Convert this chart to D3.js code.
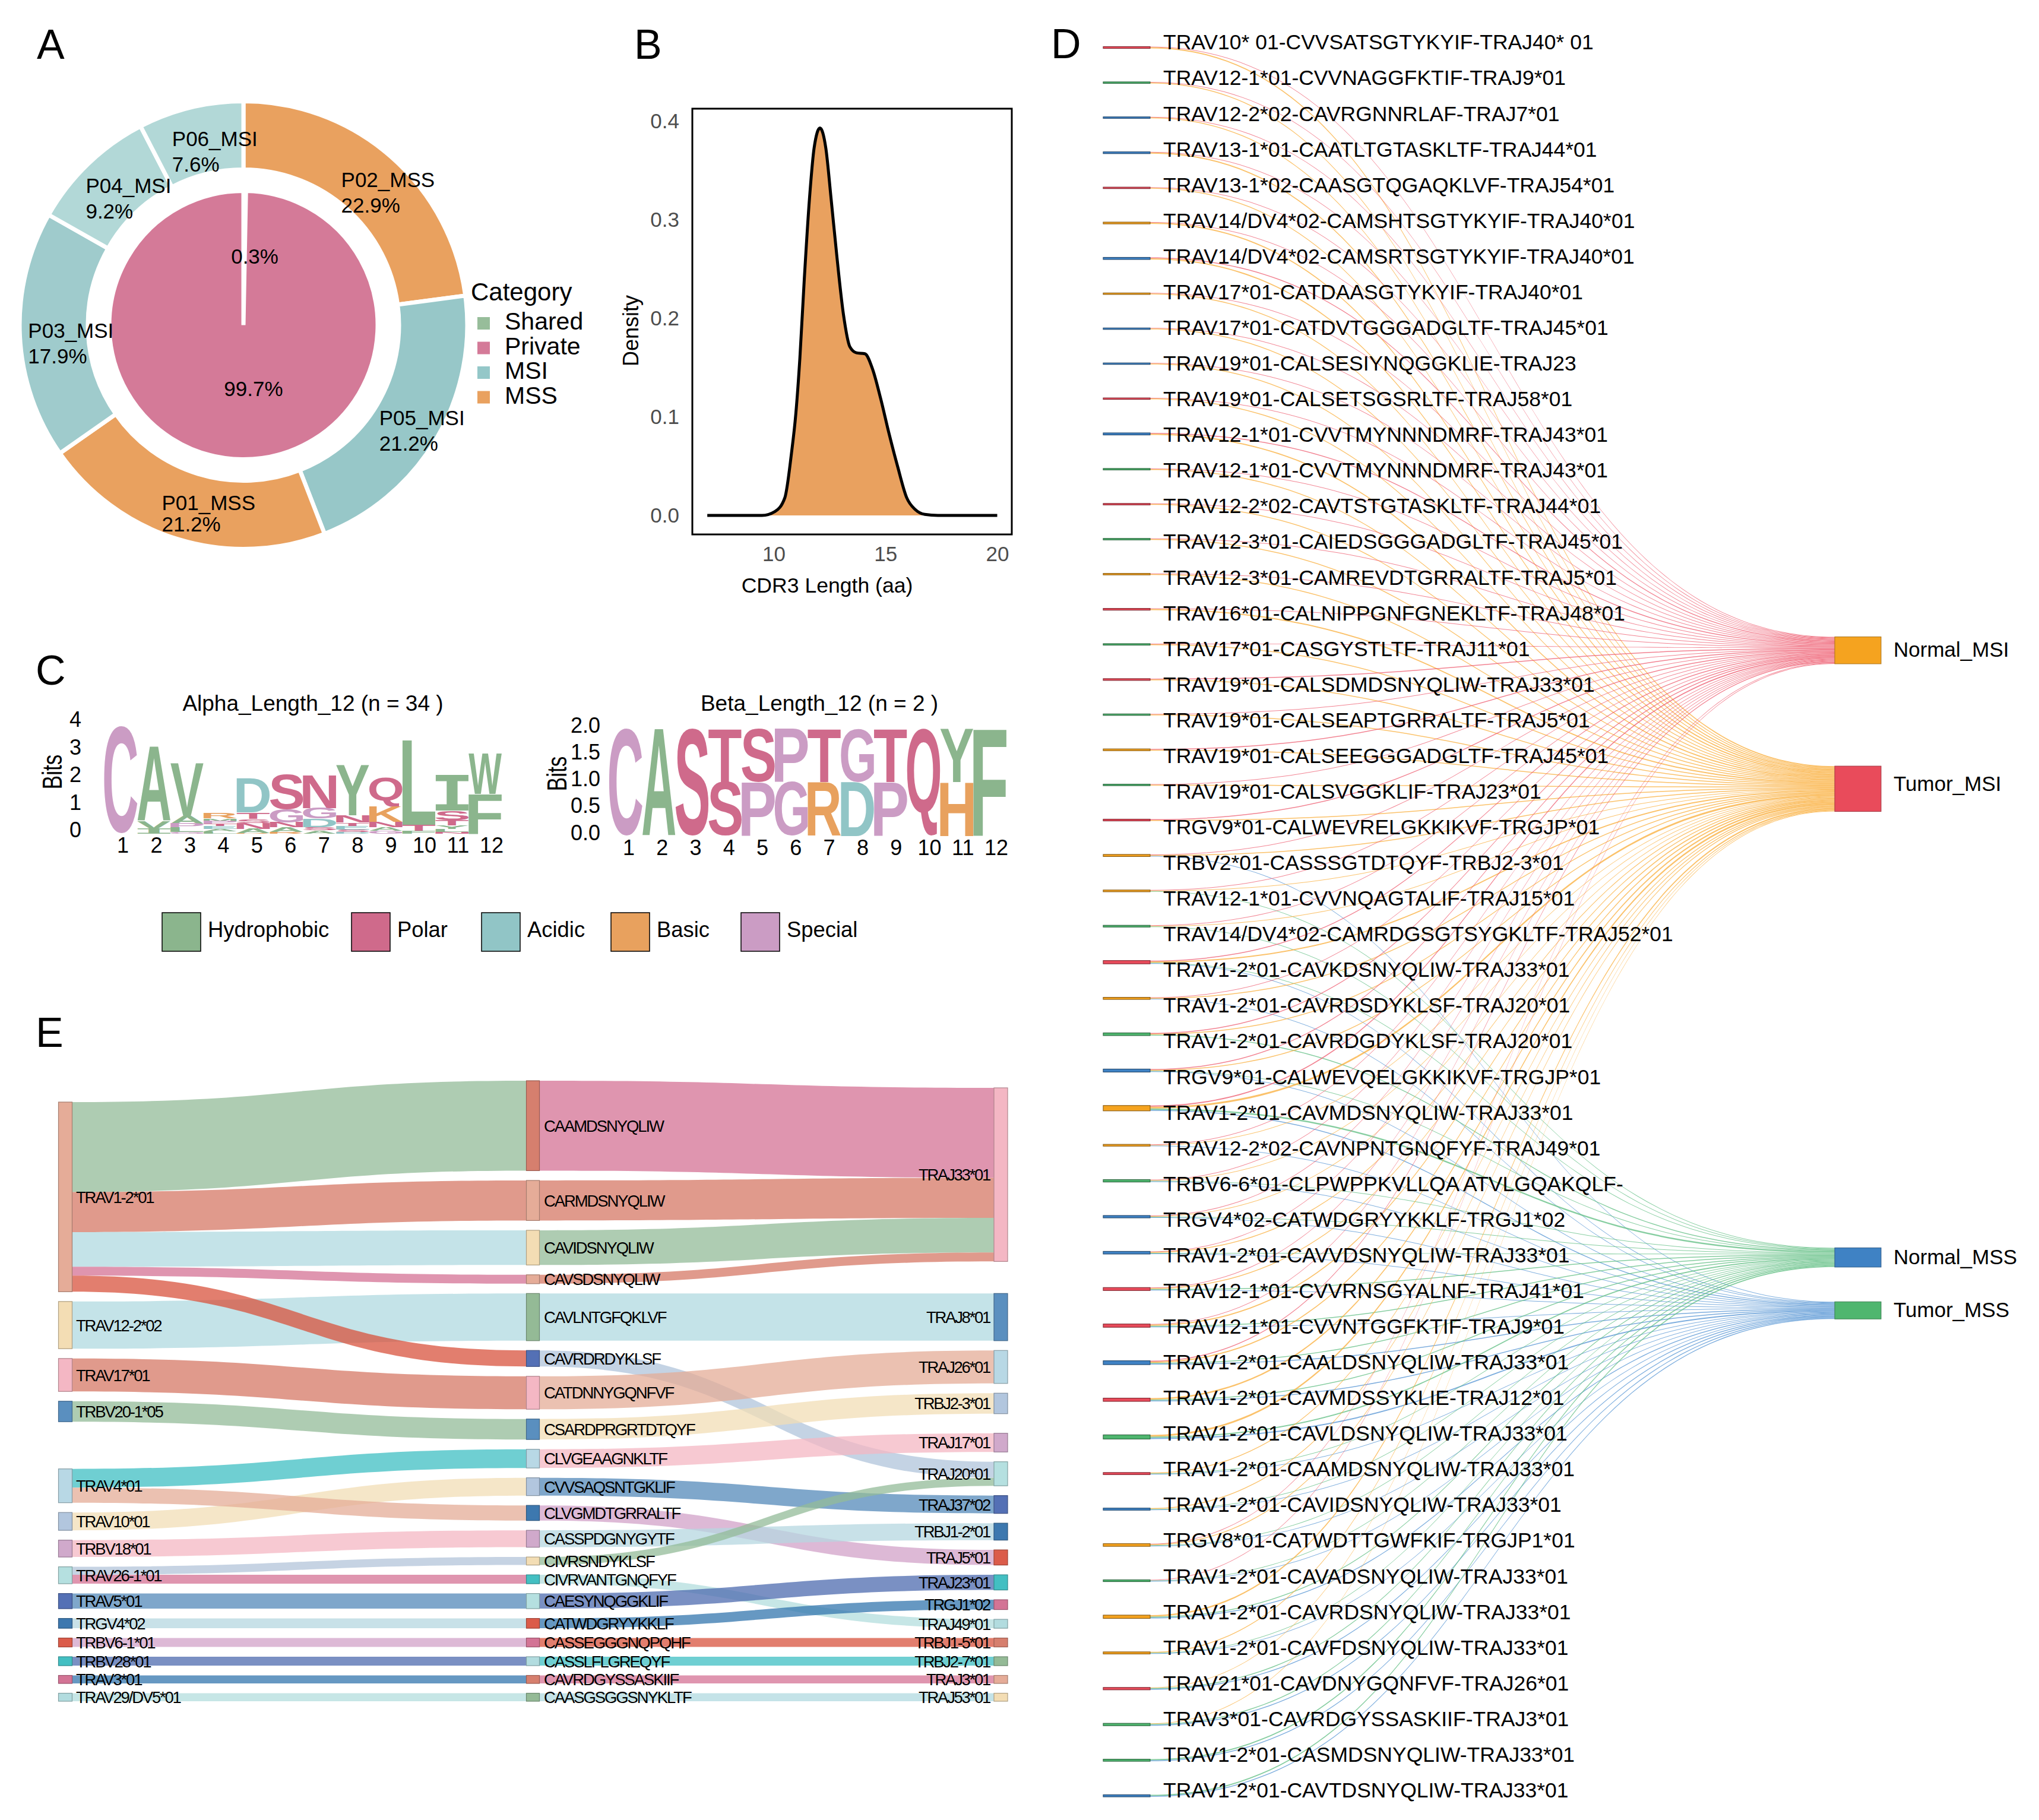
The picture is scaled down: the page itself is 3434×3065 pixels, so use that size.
<!DOCTYPE html>
<html><head><meta charset="utf-8">
<script src="https://cdn.jsdelivr.net/npm/d3@7"></script>
<style>
html,body{margin:0;padding:0;background:#fff}
svg{display:block}
text{font-family:"Liberation Sans",Arial,sans-serif;fill:#000}
</style></head><body>
<svg id="fig" width="3434" height="3065" viewBox="0 0 3434 3065"></svg>
<script>
// ---------- DATA ----------
const donutSamples = ["P02_MSS","P05_MSI","P01_MSS","P03_MSI","P04_MSI","P06_MSI"];
const donutPercent = [22.9,21.2,21.2,17.9,9.2,7.6];
const donutColors  = ["#E9A15F","#97C7C8","#E9A15F","#9FCBCC","#B2D8D7","#B2D8D7"];
const pieCategories = ["Shared","Private"];
const piePercent = [0.3,99.7];
const legendCategories = ["Shared","Private","MSI","MSS"];
const legendCatColors = ["#97BD9A","#D47A98","#94C7C8","#E9A15F"];

const densityX = [7.03,9.48,10.06,10.5,10.79,10.99,11.17,11.37,11.6,11.81,12.07,12.33,12.57,12.83,13.12,13.41,13.7,14.08,14.43,14.78,15.16,15.54,15.95,16.33,16.76,17.35,20];
const densityY = [0,0,.004,.018,.062,.103,.159,.24,.321,.373,.393,.373,.321,.262,.204,.171,.165,.164,.148,.119,.083,.05,.018,.006,.001,0,0];
const densityXTicks = [10,15,20];
const densityYTicks = [0,.1,.2,.3,.4];

const residueGroups = ["Hydrophobic","Polar","Acidic","Basic","Special"];
const groupColors = ["#8BB58D","#CF6A8B","#91C5C6","#E8A15E","#CB9CC4"];
const groupResidues = ["AVILMFWY","STNQ","DE","KRH","CGP"];
// each column lists letters from top to bottom with its height in bits
const alphaLogo = [
 [["C",3.9]],
 [["A",2.69],["V",.28],["I",.18]],
 [["V",1.92],["A",.27],["P",.15],["L",.15],["G",.06]],
 [["R",.18],["M",.09],["P",.1],["T",.09],["E",.1],["A",.09],["L",.08]],
 [["D",1.25],["T",.23],["S",.15],["N",.21],["A",.15],["R",.03]],
 [["S",1.27],["G",.48],["N",.18],["A",.17],["R",.06]],
 [["N",1.18],["G",.38],["D",.31],["S",.12],["A",.12]],
 [["Y",1.82],["N",.25],["T",.12],["E",.14],["S",.09],["D",.06]],
 [["Q",1.09],["K",.54],["N",.2],["A",.13],["G",.1]],
 [["L",3.08],["T",.21],["F",.1]],
 [["I",1.29],["S",.35],["T",.18],["Y",.13],["L",.12],["N",.06]],
 [["W",1.46],["F",1.45]]
];
const betaLogo = [
 [["C",1.99]],[["A",1.99]],[["S",1.99]],
 [["T",.99],["S",1]],[["S",.99],["P",1]],[["P",.99],["G",1]],
 [["T",.99],["R",1]],[["G",.99],["D",1]],[["T",.99],["P",1]],
 [["Q",1.99]],[["Y",.99],["H",1]],[["F",1.99]]
];
const positions = [1,2,3,4,5,6,7,8,9,10,11,12];
const alphaBitTicks = [0,1,2,3,4];
const betaBitTicks = [0,.5,1,1.5,2];

const clonotypes = [
"TRAV10* 01-CVVSATSGTYKYIF-TRAJ40* 01","TRAV12-1*01-CVVNAGGFKTIF-TRAJ9*01","TRAV12-2*02-CAVRGNNRLAF-TRAJ7*01","TRAV13-1*01-CAATLTGTASKLTF-TRAJ44*01","TRAV13-1*02-CAASGTQGAQKLVF-TRAJ54*01",
"TRAV14/DV4*02-CAMSHTSGTYKYIF-TRAJ40*01","TRAV14/DV4*02-CAMSRTSGTYKYIF-TRAJ40*01","TRAV17*01-CATDAASGTYKYIF-TRAJ40*01","TRAV17*01-CATDVTGGGADGLTF-TRAJ45*01","TRAV19*01-CALSESIYNQGGKLIE-TRAJ23",
"TRAV19*01-CALSETSGSRLTF-TRAJ58*01","TRAV12-1*01-CVVTMYNNNDMRF-TRAJ43*01","TRAV12-1*01-CVVTMYNNNDMRF-TRAJ43*01","TRAV12-2*02-CAVTSTGTASKLTF-TRAJ44*01","TRAV12-3*01-CAIEDSGGGADGLTF-TRAJ45*01",
"TRAV12-3*01-CAMREVDTGRRALTF-TRAJ5*01","TRAV16*01-CALNIPPGNFGNEKLTF-TRAJ48*01","TRAV17*01-CASGYSTLTF-TRAJ11*01","TRAV19*01-CALSDMDSNYQLIW-TRAJ33*01","TRAV19*01-CALSEAPTGRRALTF-TRAJ5*01",
"TRAV19*01-CALSEEGGGADGLTF-TRAJ45*01","TRAV19*01-CALSVGGKLIF-TRAJ23*01","TRGV9*01-CALWEVRELGKKIKVF-TRGJP*01","TRBV2*01-CASSSGTDTQYF-TRBJ2-3*01","TRAV12-1*01-CVVNQAGTALIF-TRAJ15*01",
"TRAV14/DV4*02-CAMRDGSGTSYGKLTF-TRAJ52*01","TRAV1-2*01-CAVKDSNYQLIW-TRAJ33*01","TRAV1-2*01-CAVRDSDYKLSF-TRAJ20*01","TRAV1-2*01-CAVRDGDYKLSF-TRAJ20*01","TRGV9*01-CALWEVQELGKKIKVF-TRGJP*01",
"TRAV1-2*01-CAVMDSNYQLIW-TRAJ33*01","TRAV12-2*02-CAVNPNTGNQFYF-TRAJ49*01","TRBV6-6*01-CLPWPPKVLLQA ATVLGQAKQLF-","TRGV4*02-CATWDGRYYKKLF-TRGJ1*02","TRAV1-2*01-CAVVDSNYQLIW-TRAJ33*01",
"TRAV12-1*01-CVVRNSGYALNF-TRAJ41*01","TRAV12-1*01-CVVNTGGFKTIF-TRAJ9*01","TRAV1-2*01-CAALDSNYQLIW-TRAJ33*01","TRAV1-2*01-CAVMDSSYKLIE-TRAJ12*01","TRAV1-2*01-CAVLDSNYQLIW-TRAJ33*01",
"TRAV1-2*01-CAAMDSNYQLIW-TRAJ33*01","TRAV1-2*01-CAVIDSNYQLIW-TRAJ33*01","TRGV8*01-CATWDTTGWFKIF-TRGJP1*01","TRAV1-2*01-CAVADSNYQLIW-TRAJ33*01","TRAV1-2*01-CAVRDSNYQLIW-TRAJ33*01",
"TRAV1-2*01-CAVFDSNYQLIW-TRAJ33*01","TRAV21*01-CAVDNYGQNFVF-TRAJ26*01","TRAV3*01-CAVRDGYSSASKIIF-TRAJ3*01","TRAV1-2*01-CASMDSNYQLIW-TRAJ33*01","TRAV1-2*01-CAVTDSNYQLIW-TRAJ33*01"];
const rowGroups = ["r","g","b","b","r","o","b","o","b","b","r","b","g","r","g","o","r","g","r","g","o","g","r","o","o","g","r","o","g","b","o","o","g","b","b","r","r","b","r","g","r","b","o","g","o","o","r","g","g","b"];
const compartments = ["Normal_MSI","Tumor_MSI","Normal_MSS","Tumor_MSS"];
const countNormalMSI = [2,2,2,2,2,2,3,2,2,2,2,3,2,2,2,2,2,2,3,2,3,2,3,2,2,2,3,2,3,3,4,2,2,2,2,2,2,3,0,0,0,0,2,2,0,0,0,0,0,0];
const countTumorMSI  = [4,3,3,4,3,4,4,3,3,3,3,4,3,3,3,3,4,3,3,3,3,3,3,3,2,2,4,3,3,3,6,2,2,2,3,3,4,4,5,6,3,3,3,0,5,3,2,2,0,0];
const countNormalMSS = [0,0,0,0,0,0,0,0,0,0,0,0,0,0,0,0,0,0,0,0,0,0,0,0,2,2,2,0,3,2,5,0,2,2,2,3,3,3,3,4,2,2,2,2,3,2,3,3,4,4];
const countTumorMSS  = [0,0,0,0,0,0,0,0,0,0,0,0,0,0,0,0,0,0,0,0,0,0,0,2,0,0,2,2,0,2,3,2,2,2,2,2,2,3,3,4,2,2,2,2,3,2,3,3,3,3];
const compartmentNodeColors = ["#F5A31F","#E94B5B","#3F82C4","#4FB66F"];
const compartmentLinkColors = ["#EE5A6E","#F9AE3A","#5FBE82","#5393D3"];
const rowGroupColors = {r:"#E94B5B",g:"#4FB66F",b:"#3F82C4",o:"#F5A31F"};

const vGenes = ["TRAV1-2*01","TRAV12-2*02","TRAV17*01","TRBV20-1*05","TRAV4*01","TRAV10*01","TRBV18*01","TRAV26-1*01","TRAV5*01","TRGV4*02","TRBV6-1*01","TRBV28*01","TRAV3*01","TRAV29/DV5*01"];
const jGenes = ["TRAJ33*01","TRAJ8*01","TRAJ26*01","TRBJ2-3*01","TRAJ17*01","TRAJ20*01","TRAJ37*02","TRBJ1-2*01","TRAJ5*01","TRAJ23*01","TRGJ1*02","TRAJ49*01","TRBJ1-5*01","TRBJ2-7*01","TRAJ3*01","TRAJ53*01"];
const cdr3Seqs = ["CAAMDSNYQLIW","CARMDSNYQLIW","CAVIDSNYQLIW","CAVSDSNYQLIW","CAVLNTGFQKLVF","CAVRDRDYKLSF","CATDNNYGQNFVF","CSARDPRGRTDTQYF","CLVGEAAGNKLTF","CVVSAQSNTGKLIF","CLVGMDTGRRALTF","CASSPDGNYGYTF","CIVRSNDYKLSF","CIVRVANTGNQFYF","CAESYNQGGKLIF","CATWDGRYYKKLF","CASSEGGGNQPQHF","CASSLFLGREQYF","CAVRDGYSSASKIIF","CAASGSGGSNYKLTF"];
const cdr3Counts = [101,45,39,10,53,18,37,23,21,20,17,19,9,10,17,11,10,10,9,9];
const cdr3V = ["TRAV1-2*01","TRAV1-2*01","TRAV1-2*01","TRAV1-2*01","TRAV12-2*02","TRAV1-2*01","TRAV17*01","TRBV20-1*05","TRAV4*01","TRAV10*01","TRAV4*01","TRBV18*01","TRAV26-1*01","TRAV26-1*01","TRAV5*01","TRGV4*02","TRBV6-1*01","TRBV28*01","TRAV3*01","TRAV29/DV5*01"];
const cdr3J = ["TRAJ33*01","TRAJ33*01","TRAJ33*01","TRAJ33*01","TRAJ8*01","TRAJ20*01","TRAJ26*01","TRBJ2-3*01","TRAJ17*01","TRAJ37*02","TRAJ5*01","TRBJ1-2*01","TRAJ20*01","TRAJ49*01","TRAJ23*01","TRGJ1*02","TRBJ1-5*01","TRBJ2-7*01","TRAJ3*01","TRAJ53*01"];
const vNodeColors = ["#E5AC98","#F3DDB4","#F4B7C4","#5A8FBF","#B8D8E5","#B2C6DE","#D0A9CB","#B5E0E0","#5470B5","#3D78AF","#DB5C4A","#43BFC2","#D37495","#B2DCDF"];
const cdr3NodeColors = ["#D67F6E","#E5AC98","#F3DDB4","#E5AC98","#94BA96","#5470B5","#F4B7C4","#5A8FBF","#B8D8E5","#B2C6DE","#3D78AF","#D0A9CB","#F3DDB4","#43BFC2","#B5E0E0","#DB5C4A","#D37495","#B2DCDF","#D67F6E","#94BA96"];
const jNodeColors = ["#F4B7C4","#5A8FBF","#B8D8E5","#B2C6DE","#D0A9CB","#B5E0E0","#5470B5","#3D78AF","#DB5C4A","#43BFC2","#D37495","#B2DCDF","#D67F6E","#94BA96","#E5AC98","#F3DDB4"];
const vLinkColors = ["#AECCB2","#E09A8C","#C4E3E8","#DF95AF","#C4E3E8","#E27E6E","#E09A8C","#AECCB2","#6FCFD2","#F5E6C8","#EBC1B1","#F7C9D2","#C6D3E3","#DF95AF","#7FA7CB","#C8E1E8","#DDB9D6","#7A90C3","#6698C2","#C6E6E6"];
const jLinkColors = ["#DF95AF","#E09A8C","#AECCB2","#E09A8C","#C4E3E8","#C4D3E4","#EBC1B1","#F5E6C8","#F7C9D2","#7FA7CB","#DDB9D6","#C8E1E8","#AECCB2","#C6E6E6","#7A90C3","#6698C2","#E27E6E","#6FCFD2","#DF95AF","#C4E3E8"];

// ---------- LAYOUT CONSTANTS ----------
const svg = d3.select("#fig");
const FS = 35;
const label = (g,x,y,t,fs=FS,anchor="start") => g.append("text").attr("x",x).attr("y",y).attr("font-size",fs).attr("text-anchor",anchor).text(t);

[["A",62,99],["B",1068,99],["C",60,1153],["D",1770,98],["E",60,1763]].forEach(d=>label(svg,d[1],d[2],d[0],70));

// ---------- A ----------
const gA = svg.append("g").attr("transform","translate(410,547.5)");
const donutArc = d3.arc().innerRadius(262).outerRadius(377);
const donut = d3.pie().sort(null).value(d=>d)(donutPercent);
gA.selectAll("path.outer").data(donut).join("path").attr("class","outer")
  .attr("d",donutArc).attr("fill",(d,i)=>donutColors[i]).attr("stroke","#fff").attr("stroke-width",7);
const pieArc = d3.arc().innerRadius(0).outerRadius(226);
const pie = d3.pie().sort(null).value(d=>d)(piePercent);
gA.selectAll("path.inner").data(pie).join("path").attr("class","inner")
  .attr("d",pieArc).attr("fill",(d,i)=>legendCatColors[i]).attr("stroke","#fff").attr("stroke-width",7);
const labelArc = d3.arc().innerRadius(265).outerRadius(371);
donut.forEach((d,i)=>{
  const [cx,cy]=labelArc.centroid(d);
  label(gA,cx-45,cy+7,donutSamples[i]);
  label(gA,cx-45,cy+(i==2?43:50),donutPercent[i].toFixed(1)+"%");
});
const pieLabelArc = d3.arc().innerRadius(0).outerRadius(223);
pie.forEach((d,i)=>{
  const [cx,cy]=pieLabelArc.centroid(d);
  label(gA,cx+18,cy+8,piePercent[i].toFixed(1)+"%",FS,"middle");
});
label(svg,793,506,"Category",42);
const legCat = d3.scaleBand().domain(legendCategories).range([534,700]);
legendCategories.forEach((c,i)=>{
  svg.append("rect").attr("x",804).attr("y",legCat(c)).attr("width",21).attr("height",21).attr("fill",legendCatColors[i]);
  label(svg,850,legCat(c)+21,c,41);
});

// ---------- B ----------
const xB = d3.scaleLinear().domain([10,20]).range([1303,1679.5]);
const yB = d3.scaleLinear().domain([0,.4]).range([868,204]);
const densityPts = densityX.map((x,i)=>[x,densityY[i]]);
svg.append("path").attr("fill","#E9A15F")
  .attr("d",d3.area().x(d=>xB(d[0])).y0(yB(0)).y1(d=>yB(d[1])).curve(d3.curveMonotoneX)(densityPts));
svg.append("path").attr("fill","none").attr("stroke","#000").attr("stroke-width",5)
  .attr("d",d3.line().x(d=>xB(d[0])).y(d=>yB(d[1])).curve(d3.curveMonotoneX)(densityPts));
svg.append("rect").attr("x",1166).attr("y",183).attr("width",538).attr("height",717).attr("fill","none").attr("stroke","#000").attr("stroke-width",3);
const axB = svg.append("g").attr("transform","translate(1166,0)").call(d3.axisLeft(yB).tickValues(densityYTicks).tickFormat(d3.format(".1f")).tickSize(0).tickPadding(22));
const axBx = svg.append("g").attr("transform","translate(0,900)").call(d3.axisBottom(xB).tickValues(densityXTicks).tickSize(0).tickPadding(20));
[axB,axBx].forEach(a=>{a.select(".domain").remove();a.selectAll("text").attr("font-size",FS).style("fill","#4D4D4D").attr("font-family",null);});
label(svg,1393,998,"CDR3 Length (aa)",35.6,"middle");
label(svg,0,0,"Density",36,"middle").attr("transform","translate(1075,557) rotate(-90)");

// ---------- C ----------
const residueColor = r => groupColors[groupResidues.findIndex(s=>s.includes(r))];
const ctx = document.createElement("canvas").getContext("2d");
// "I" is drawn with bars top and bottom as in the reference, hence the mono face for that letter
const logoFace = ch => ch==="I" ? "'DejaVu Sans Mono'" : "'Liberation Sans'";
function drawLogo(data,bandRange,y,pointRange,tickVals,tickFmt,axisX,labelY,tickShift){
  const band = d3.scaleBand().domain(positions).range(bandRange);
  const pts = d3.scalePoint().domain(positions).range(pointRange);
  const g = svg.append("g");
  data.forEach((col,ci)=>{
    let top = d3.sum(col,d=>d[1]);
    col.forEach(([ch,h])=>{
      ctx.font = `bold 200px ${logoFace(ch)}`;
      const m = ctx.measureText(ch);
      const inkL=-m.actualBoundingBoxLeft, inkW=m.actualBoundingBoxRight+m.actualBoundingBoxLeft, inkH=m.actualBoundingBoxAscent+m.actualBoundingBoxDescent;
      const w = band.bandwidth(), hp = y(top-h)-y(top);
      const sx=w/inkW*(200/40), sy=hp/inkH*(200/40);
      g.append("text").attr("font-size",40).attr("font-weight","bold").style("font-family",logoFace(ch)).style("fill",residueColor(ch))
        .attr("transform",`translate(${band(positions[ci])-inkL*sx/5},${y(top-h)-m.actualBoundingBoxDescent*sy/5}) scale(${sx},${sy})`).text(ch);
      top -= h;
    });
  });
  const ax = svg.append("g").attr("transform",`translate(${axisX},${tickShift})`)
    .call(d3.axisLeft(y).tickValues(tickVals).tickFormat(tickFmt).tickSize(0).tickPadding(0));
  ax.select(".domain").remove();
  ax.selectAll("text").attr("font-size",36).attr("font-family",null);
  positions.forEach(p=>label(svg,pts(p),labelY,p,36,"middle"));
}
drawLogo(alphaLogo,[175.5,845],d3.scaleLinear().domain([0,4]).range([1404,1218.4]),[207,828],alphaBitTicks,d3.format("d"),137,1436,-6);
drawLogo(betaLogo,[1026,1695],d3.scaleLinear().domain([0,2]).range([1407.5,1226.5]),[1059,1678],betaBitTicks,d3.format(".1f"),1011,1440,-5);
label(svg,527,1197,"Alpha_Length_12 (n = 34 )",37,"middle");
label(svg,1380,1197,"Beta_Length_12 (n = 2 )",37,"middle");
label(svg,0,0,"Bits",46,"middle").attr("transform","translate(104,1300) rotate(-90) scale(.76,1)");
label(svg,0,0,"Bits",46,"middle").attr("transform","translate(954,1303) rotate(-90) scale(.76,1)");
const legSquareX=[273,592,811,1029,1248];
residueGroups.forEach((n,i)=>{
  svg.append("rect").attr("x",legSquareX[i]).attr("y",1537).attr("width",65).attr("height",65).attr("fill",groupColors[i]).attr("stroke","#000").attr("stroke-width",1.5);
  label(svg,legSquareX[i]+77,1578,n,36.4);
});

// ---------- D ----------
const rowTotals = clonotypes.map((_,i)=>countNormalMSI[i]+countTumorMSI[i]+countNormalMSS[i]+countTumorMSS[i]);
const padD = 113;
const totalD = d3.sum(rowTotals)+padD*49;
const yD = d3.scaleLinear().domain([0,totalD]).range([78.5,3026]);
const perCompartment = [countNormalMSI,countTumorMSI,countNormalMSS,countTumorMSS];
const compartmentStart = [1991,2427,4052,4234];
const compartmentLabelNudge = [0,-7,0,0];
const xD = {l0:1858,l1:1937,r0:3090,r1:3168};
const gDLinks = svg.append("g"), gDNodes = svg.append("g"), gDText = svg.append("g");
function ribbon(x0,a0,b0,x1,a1,b1){
  const p=d3.path(), m=(x0+x1)/2;
  p.moveTo(x0,a0); p.bezierCurveTo(m,a0,m,a1,x1,a1);
  p.lineTo(x1,b1); p.bezierCurveTo(m,b1,m,b0,x0,b0); p.closePath();
  return p.toString();
}
let cum=0;
const compCum = compartmentStart.slice();
const links=[];
clonotypes.forEach((name,i)=>{
  let off=cum;
  perCompartment.forEach((arr,c)=>{
    const v=arr[i]; if(!v) return;
    links.push({c,d:ribbon(xD.l1,yD(off),yD(off+v),xD.r0,yD(compCum[c]),yD(compCum[c]+v))});
    off+=v; compCum[c]+=v;
  });
  const col=rowGroupColors[rowGroups[i]];
  gDNodes.append("rect").attr("x",xD.l0).attr("y",yD(cum)).attr("width",xD.l1-xD.l0).attr("height",yD(cum+rowTotals[i])-yD(cum))
    .attr("fill",col).attr("stroke",d3.color(col).darker(1.7)).attr("stroke-width",1.1);
  cum+=rowTotals[i]+padD;
});
gDLinks.selectAll("path").data(links).join("path").attr("d",d=>d.d).attr("fill",d=>compartmentLinkColors[d.c]).attr("fill-opacity",.75);
const yRowLabel = d3.scalePoint().domain(d3.range(clonotypes.length)).range([83.4,3027]);
clonotypes.forEach((n,i)=>label(gDText,1959,yRowLabel(i),n,35.5));
compartments.forEach((n,c)=>{
  const a=yD(compartmentStart[c]), b=yD(compCum[c]);
  gDNodes.append("rect").attr("x",xD.r0).attr("y",a).attr("width",xD.r1-xD.r0).attr("height",b-a)
    .attr("fill",compartmentNodeColors[c]).attr("stroke",d3.color(compartmentNodeColors[c]).darker(1)).attr("stroke-width",1);
  label(gDText,3189,(a+b)/2+11+compartmentLabelNudge[c],n);
});

// ---------- E ----------
const yE = d3.scaleLinear().domain([0,697]).range([1820,2865]);
const xE = {v0:98.5,v1:121.5,c0:886.5,c1:908.5,j0:1674,j1:1697};
const opaque = (hex,a=.75)=>{const c=d3.rgb(hex);return d3.rgb((c.r-255*(1-a))/a,(c.g-255*(1-a))/a,(c.b-255*(1-a))/a).formatHex();};
function column(names,keys,lead,extra){
  const nodes={}; let y=lead;
  names.forEach(n=>{
    y+=extra[n]||0;
    const v=d3.sum(cdr3Counts.filter((_,i)=>keys[i]===n));
    nodes[n]={y0:y,y1:y+v,off:y}; y+=v+11;
  });
  return nodes;
}
const vNodes=column(vGenes,cdr3V,24,{"TRAV4*01":42});
const cNodes=column(cdr3Seqs,cdr3Seqs,0,{});
const jNodes=column(jGenes,cdr3J,8,{"TRAJ8*01":25,"TRAJ17*01":11});
const gELinks=svg.append("g"), gENodes=svg.append("g"), gEText=svg.append("g");
cdr3Seqs.forEach((s,i)=>{
  const v=vNodes[cdr3V[i]], c=cNodes[s], n=cdr3Counts[i];
  gELinks.append("path").attr("fill",opaque(vLinkColors[i])).attr("fill-opacity",.75)
    .attr("d",ribbon(xE.v1,yE(v.off),yE(v.off+n),xE.c0,yE(c.y0),yE(c.y1)));
  v.off+=n;
});
cdr3Seqs.forEach((s,i)=>{
  const j=jNodes[cdr3J[i]], c=cNodes[s], n=cdr3Counts[i];
  gELinks.append("path").attr("fill",opaque(jLinkColors[i])).attr("fill-opacity",.75)
    .attr("d",ribbon(xE.c1,yE(c.y0),yE(c.y1),xE.j0,yE(j.off),yE(j.off+n)));
  j.off+=n;
});
function drawCol(names,nodes,colors,x0,x1,lx,anchor,spacing){
  names.forEach((n,i)=>{
    const a=yE(nodes[n].y0), b=yE(nodes[n].y1);
    gENodes.append("rect").attr("x",x0).attr("y",a).attr("width",x1-x0).attr("height",b-a)
      .attr("fill",colors[i]).attr("stroke",d3.color(colors[i]).darker(.9)).attr("stroke-width",1.2);
    label(gEText,lx,(a+b)/2+10,n,27.5,anchor).attr("letter-spacing",spacing);
  });
}
drawCol(vGenes,vNodes,vNodeColors,xE.v0,xE.v1,128,"start",-2.2);
drawCol(cdr3Seqs,cNodes,cdr3NodeColors,xE.c0,xE.c1,916,"start",-2.1);
drawCol(jGenes,jNodes,jNodeColors,xE.j0,xE.j1,1667,"end",-2.3);
</script>
</body></html>
